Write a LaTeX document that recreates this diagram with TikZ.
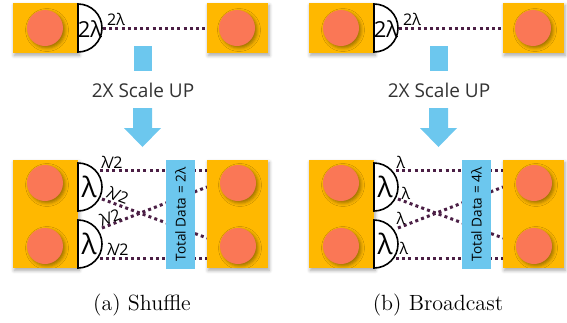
\documentclass[tikz,border=0pt]{standalone}
\usepackage{fontspec}
\newfontfamily\osf{Open Sans}
\usetikzlibrary{shadows.blur}
\definecolor{gold}{HTML}{FFB800}
\definecolor{coral}{HTML}{FA7756}
\definecolor{skyb}{HTML}{6CC7EE}
\definecolor{plum}{HTML}{4B1F45}
\tikzset{
  sq/.style={fill=gold, draw=none, inner sep=0pt, blur shadow={shadow xshift=0.6pt, shadow yshift=-1.2pt, shadow blur steps=6, shadow opacity=35}},
  ball/.style={circle, fill=coral, inner sep=0pt, minimum size=18pt, blur shadow={shadow xshift=1pt, shadow yshift=-1pt, shadow blur steps=4, shadow opacity=40}},
  half/.style={draw=black, fill=white, line width=0.8pt},
  dots/.style={draw=plum, line width=1.5pt, dash pattern=on 1.5pt off 1.6pt},
  bluebox/.style={fill=skyb, draw=none, inner sep=0pt},
  inlbl/.style={font=\osf\fontsize{12}{12}\selectfont, inner sep=0pt},
  smlbl/.style={font=\osf\fontsize{8}{8}\selectfont, inner sep=0pt},
  captxt/.style={font=\fontsize{11}{13}\selectfont},
  scl/.style={font=\osf\fontsize{9.5}{11}\selectfont, text=black!80},
  tot/.style={font=\osf\fontsize{6.8}{7}\selectfont, rotate=90, inner sep=0pt}
}
\newcommand{\panel}[5]{% #1 xoff, #2 prefix, #3 small label, #4 total, #5 caption
\begin{scope}[xshift=#1*0.5pt]
  % top row
  \node[sq, minimum width=32.5pt, minimum height=25pt] (#2sqTL) at (45.5,28) {};
  \node[ball] (#2cTL) at (45,28) {};
  \draw[half] (78,4) arc[start angle=90, end angle=-90, radius=12pt] -- cycle;
  \node[inlbl, font=\osf\fontsize{11}{11}\selectfont] (#2tin) at (90,29) {2λ};
  \coordinate (#2tA) at (103,28);
  \node[sq, minimum width=30.5pt, minimum height=25pt] (#2sqTR) at (237.5,28) {};
  \node[ball] (#2cTR) at (237,28) {};
  \draw[dots] (#2tA) -- (#2sqTR.west);
  \node[smlbl] (#2tlab) at (116,19) {2λ};
  % scale arrow
  \fill[skyb] (134,46) rectangle (152,71);
  \node[scl] (#2scale) at (143,90) {2X Scale UP};
  \fill[skyb] (133,108) -- (152,108) -- (152,128) -- (161,128) -- (142.5,147) -- (124,128) -- (133,128) -- cycle;
  % bottom
  \coordinate (#2a1) at (100,170);
  \coordinate (#2a2) at (102,199);
  \coordinate (#2a3) at (102,228);
  \coordinate (#2a4) at (100,258);
  \coordinate (#2b1) at (207,170);
  \coordinate (#2b2) at (207,238);
  \coordinate (#2b3) at (207,187);
  \coordinate (#2b4) at (207,258);
  \draw[dots] (#2a1) -- (#2b1);
  \draw[dots] (#2a2) -- (#2b2);
  \draw[dots] (#2a3) -- (#2b3);
  \draw[dots] (#2a4) -- (#2b4);
  \node[sq, minimum width=30.5pt, minimum height=54pt] (#2sqBR) at (237.5,214) {};
  \node[ball] (#2cBR1) at (238,183) {};
  \node[ball] (#2cBR2) at (238,246) {};
  \node[bluebox, minimum width=14.5pt, minimum height=54.5pt] (#2tot) at (180.5,214.5) {};
  \node[tot] at (#2tot) {Total Data = #4};
  \node[sq, minimum width=32.5pt, minimum height=54pt] (#2sqBL) at (45.5,214) {};
  \node[ball] (#2cBL1) at (45,183) {};
  \node[ball] (#2cBL2) at (45,246) {};
  \draw[half] (78,163) arc[start angle=90, end angle=-90, radius=12pt] -- cycle;
  \draw[half] (78,220) arc[start angle=90, end angle=-90, radius=12pt] -- cycle;
  \node[inlbl, font=\osf\fontsize{14}{14}\selectfont] (#2l1) at (89,187) {λ};
  \node[inlbl, font=\osf\fontsize{14}{14}\selectfont] (#2l2) at (89,244) {λ};
  #3
  \node[captxt] (#2cap) at (142,305) {#5};
\end{scope}}
\begin{document}
\begin{tikzpicture}[x=0.5pt,y=-0.5pt]
\useasboundingbox (0,0) rectangle (567,322);
\panel{0}{a}{%
  \node[smlbl] (ala) at (112,162) {λ\kern-0.9pt/\kern-0.3pt2};
  \node[smlbl, rotate=-20] (alb) at (118,195) {λ\kern-0.9pt/\kern-0.3pt2};
  \node[smlbl, rotate=20] (alc) at (110,217) {λ\kern-0.9pt/\kern-0.3pt2};
  \node[smlbl] (ald) at (118,249) {λ\kern-0.9pt/\kern-0.3pt2};
}{2λ}{(a) Shuffle}
\panel{296}{b}{%
  \node[smlbl] (bla) at (105,162) {λ};
  \node[smlbl] (blb) at (110,193) {λ};
  \node[smlbl] (blc) at (105,218) {λ};
  \node[smlbl] (bld) at (108,248) {λ};
}{4λ}{(b) Broadcast}
\end{tikzpicture}
\end{document}
